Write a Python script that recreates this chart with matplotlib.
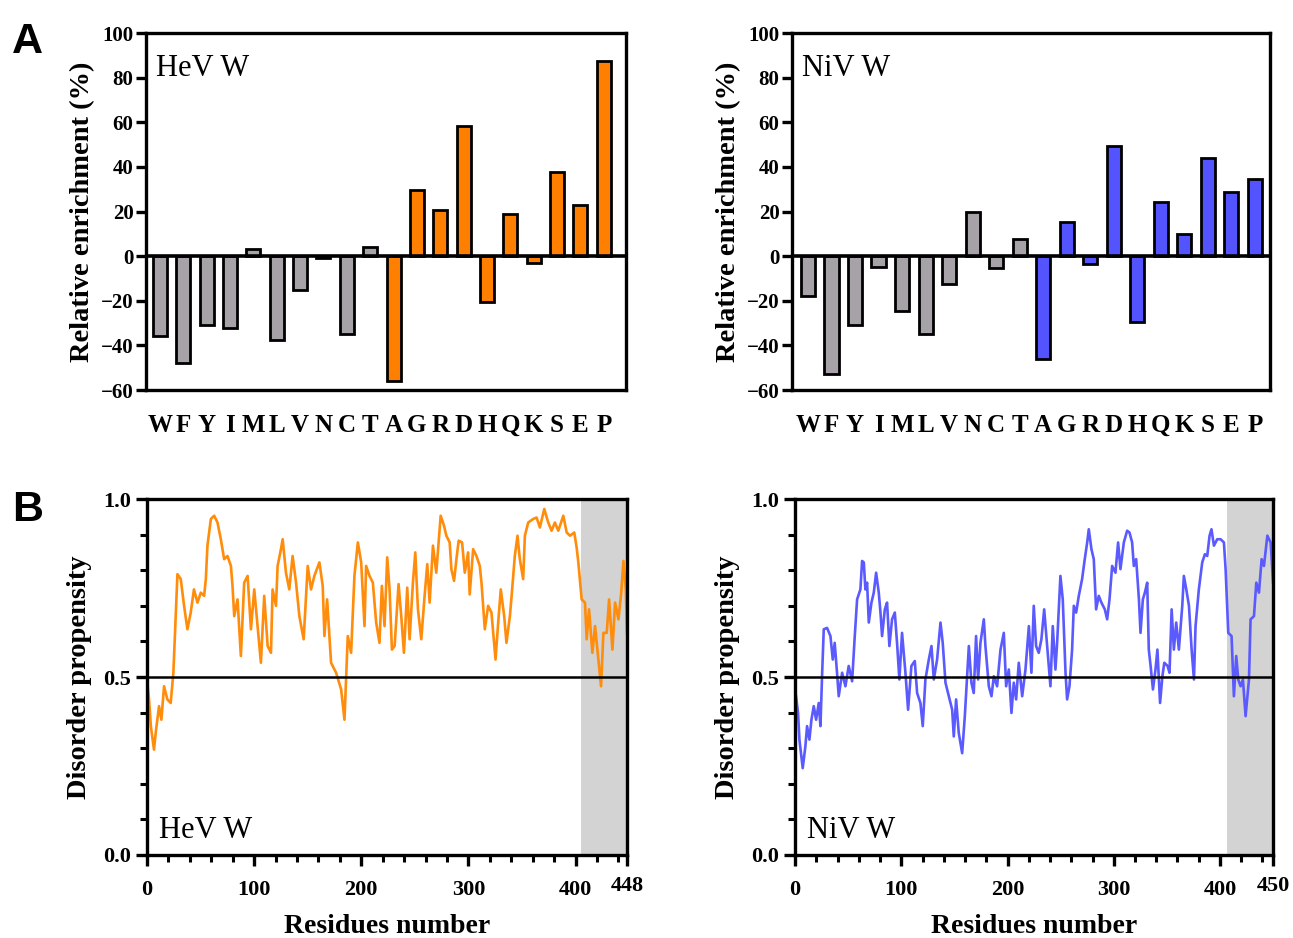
import numpy as np
import matplotlib.pyplot as plt

# amino acid enrichment (%)
residues = ['W', 'F', 'Y', 'I', 'M', 'L', 'V', 'N', 'C', 'T',
            'A', 'G', 'R', 'D', 'H', 'Q', 'K', 'S', 'E', 'P']
hev_enrich = [-36, -48, -31, -32, 3, -37.5, -15, -1, -35, 4,
              -56, 29.5, 20.5, 58.5, -20.5, 18.7, -3, 37.8, 22.9, 87.4]
niv_enrich = [-17.8, -53, -31, -5, -24.7, -35, -12.3, 19.9, -5.5, 7.8,
              -46, 15.4, -3.7, 49.5, -29.3, 24.2, 9.9, 44.2, 28.8, 34.7]
n_order_promoting = 10

# disorder propensity profiles (residue, score)
hev_pos = [0, 1.9, 3.6, 6.5, 8.1, 11.2, 13.4, 15.9, 19.0, 22.1, 24.6, 25.9, 28.4, 31.5, 34.6,
           37.7, 40.8, 43.8, 47.1, 50.2, 53.3, 54.9, 56.4, 59.6, 62.7, 65.8, 68.9, 72.0, 75.1,
           78.3, 79.8, 81.4, 84.5, 87.6, 90.7, 93.9, 97.0, 100.1, 103.2, 106.3, 109.4, 112.6,
           115.7, 117.2, 120.4, 121.9, 125.0, 126.6, 129.7, 132.8, 135.9, 139.1, 142.2, 146.2,
           150.0, 153.1, 156.2, 160.9, 164.0, 165.6, 168.1, 171.8, 176.5, 181.2, 184.3, 187.4,
           190.5, 193.6, 196.8, 199.9, 203.0, 204.5, 207.7, 210.8, 213.9, 217.0, 219.2, 221.7,
           224.2, 226.4, 228.6, 231.1, 234.8, 237.3, 239.8, 242.9, 245.1, 248.2, 250.4, 252.9,
           256.0, 259.1, 261.6, 263.8, 266.9, 270.0, 274.1, 277.2, 279.4, 282.5, 284.1, 286.6,
           288.8, 290.9, 294.1, 296.6, 299.7, 301.2, 304.4, 307.5, 310.6, 312.2, 315.3, 318.4,
           321.5, 325.3, 327.8, 330.2, 333.4, 335.5, 338.7, 340.2, 343.3, 345.8, 348.0, 351.1,
           352.7, 355.8, 360.5, 363.6, 366.7, 370.8, 374.5, 377.6, 380.7, 383.9, 388.6, 391.7,
           394.8, 398.8, 401.0, 402.6, 405.7, 408.8, 410.4, 412.6, 415.7, 418.2, 421.3, 423.8,
           426.0, 429.1, 431.3, 434.4, 436.9, 440.0, 442.5, 444.7, 446.9, 448]
hev_score = [0.493, 0.437, 0.361, 0.296, 0.343, 0.418, 0.380, 0.474, 0.437, 0.427, 0.512, 0.606,
             0.789, 0.775, 0.700, 0.634, 0.681, 0.746, 0.709, 0.737, 0.728, 0.775, 0.869, 0.944,
             0.953, 0.934, 0.887, 0.831, 0.840, 0.812, 0.756, 0.671, 0.718, 0.559, 0.765, 0.784,
             0.634, 0.746, 0.643, 0.540, 0.728, 0.587, 0.568, 0.746, 0.700, 0.812, 0.859, 0.887,
             0.793, 0.746, 0.840, 0.765, 0.671, 0.606, 0.812, 0.746, 0.784, 0.822, 0.756, 0.615,
             0.718, 0.540, 0.512, 0.465, 0.380, 0.615, 0.568, 0.784, 0.878, 0.822, 0.643, 0.812,
             0.784, 0.765, 0.653, 0.596, 0.756, 0.643, 0.836, 0.746, 0.577, 0.587, 0.761, 0.671,
             0.568, 0.751, 0.606, 0.765, 0.850, 0.690, 0.606, 0.728, 0.817, 0.709, 0.869, 0.793,
             0.953, 0.925, 0.897, 0.878, 0.803, 0.770, 0.831, 0.883, 0.878, 0.793, 0.850, 0.732,
             0.859, 0.840, 0.812, 0.765, 0.634, 0.700, 0.681, 0.549, 0.653, 0.746, 0.671, 0.596,
             0.671, 0.723, 0.840, 0.897, 0.831, 0.775, 0.897, 0.934, 0.944, 0.948, 0.920, 0.972,
             0.934, 0.911, 0.934, 0.911, 0.953, 0.906, 0.897, 0.906, 0.864, 0.822, 0.718, 0.709,
             0.606, 0.690, 0.568, 0.643, 0.549, 0.474, 0.624, 0.624, 0.718, 0.577, 0.709, 0.662,
             0.732, 0.826, 0.746, 0.624]

niv_pos = [0.9, 2.8, 4.1, 7.2, 9.7, 11.3, 13.5, 15.4, 17.6, 19.8, 22.3, 23.9, 25.4, 27.0, 30.1,
           33.3, 35.5, 37.3, 39.5, 41.1, 44.3, 47.4, 50.5, 53.7, 56.2, 58.4, 61.5, 63.1, 64.7,
           66.2, 67.8, 69.4, 71.9, 74.1, 76.3, 78.8, 80.4, 81.9, 84.5, 86.6, 88.8, 91.3, 93.9,
           96.0, 98.2, 100.7, 103.9, 106.4, 109.5, 112.7, 114.9, 118.0, 120.2, 122.7, 125.9,
           128.4, 130.6, 133.7, 136.9, 139.0, 141.6, 144.7, 147.9, 149.4, 151.6, 154.1, 157.3,
           159.8, 162.0, 163.6, 166.0, 168.2, 170.4, 172.3, 174.5, 177.7, 179.2, 182.4, 184.9,
           187.1, 190.2, 193.4, 196.5, 198.7, 201.2, 203.7, 205.9, 208.1, 210.6, 213.8, 216.9,
           220.1, 222.5, 224.7, 226.9, 229.4, 231.9, 234.5, 237.3, 240.4, 242.6, 245.1, 246.7,
           249.8, 252.0, 254.6, 256.1, 258.3, 260.8, 262.4, 264.6, 267.1, 270.2, 272.7, 275.0,
           276.5, 279.0, 281.2, 283.4, 285.9, 288.4, 291.6, 293.8, 296.0, 298.5, 301.6, 304.1,
           306.3, 309.5, 312.6, 314.8, 317.3, 318.9, 321.1, 323.7, 325.2, 327.4, 329.3, 331.5,
           333.0, 334.7, 336.9, 339.3, 341.1, 343.6, 345.8, 347.6, 350.7, 352.5, 354.5, 356.6,
           358.8, 361.3, 364.5, 366.0, 368.3, 370.8, 373.3, 375.5, 377.0, 380.1, 383.3, 385.8,
           388.0, 390.2, 392.0, 394.3, 397.4, 400.6, 403.7, 405.3, 407.8, 410.9, 413.1, 415.3,
           417.2, 419.4, 421.6, 424.1, 427.3, 428.8, 432.0, 434.2, 436.7, 439.2, 441.4, 444.6,
           447.7, 450]
niv_score = [0.446, 0.399, 0.324, 0.244, 0.305, 0.362, 0.324, 0.380, 0.418, 0.380, 0.427, 0.362,
             0.502, 0.634, 0.638, 0.615, 0.549, 0.596, 0.512, 0.446, 0.512, 0.474, 0.531, 0.488,
             0.615, 0.718, 0.746, 0.826, 0.822, 0.746, 0.765, 0.653, 0.709, 0.737, 0.793, 0.737,
             0.681, 0.615, 0.690, 0.709, 0.587, 0.662, 0.681, 0.596, 0.493, 0.624, 0.512, 0.408,
             0.531, 0.545, 0.455, 0.427, 0.362, 0.493, 0.549, 0.587, 0.493, 0.549, 0.653, 0.596,
             0.484, 0.446, 0.408, 0.333, 0.437, 0.343, 0.286, 0.390, 0.502, 0.587, 0.484, 0.455,
             0.615, 0.493, 0.596, 0.662, 0.587, 0.474, 0.446, 0.502, 0.474, 0.577, 0.624, 0.474,
             0.521, 0.399, 0.484, 0.437, 0.540, 0.446, 0.521, 0.643, 0.512, 0.700, 0.587, 0.568,
             0.606, 0.690, 0.587, 0.474, 0.643, 0.521, 0.596, 0.784, 0.718, 0.512, 0.437, 0.474,
             0.577, 0.700, 0.681, 0.728, 0.775, 0.831, 0.878, 0.915, 0.859, 0.831, 0.690, 0.728,
             0.709, 0.690, 0.662, 0.718, 0.812, 0.793, 0.878, 0.803, 0.878, 0.911, 0.906, 0.878,
             0.812, 0.831, 0.718, 0.624, 0.718, 0.737, 0.765, 0.577, 0.531, 0.465, 0.521, 0.577,
             0.427, 0.502, 0.540, 0.531, 0.512, 0.690, 0.577, 0.653, 0.577, 0.700, 0.784, 0.746,
             0.700, 0.577, 0.493, 0.643, 0.746, 0.822, 0.845, 0.840, 0.897, 0.915, 0.869, 0.887,
             0.887, 0.878, 0.803, 0.624, 0.615, 0.446, 0.559, 0.493, 0.474, 0.493, 0.390, 0.493,
             0.662, 0.671, 0.765, 0.737, 0.831, 0.812, 0.897, 0.878, 0.765]

hev_len, niv_len = 448, 450
hev_shade, niv_shade = 405, 407

serif = ['Liberation Serif', 'DejaVu Serif']
plt.rcParams['font.family'] = serif
plt.rcParams['axes.linewidth'] = 2.4

grey = '#a6a2a8'
orange_bar = '#ff8000'
blue_bar = '#5454ff'
orange_line = '#ff8c0a'
blue_line = '#5a5aff'

fig = plt.figure(figsize=(12.93, 9.38), dpi=100)


def bar_panel(rect, values, color, label, xlim):
    ax = fig.add_axes(rect)
    x = np.arange(len(residues))
    colors = [grey] * n_order_promoting + [color] * (len(residues) - n_order_promoting)
    ax.bar(x, values, width=0.6, color=colors, edgecolor='black', linewidth=2, zorder=2)
    ax.axhline(0, color='black', lw=2.6, zorder=3)
    ax.set_xlim(*xlim)
    ax.set_ylim(-60, 100)
    ax.set_yticks(np.arange(-60, 101, 20))
    ax.set_xticks(x)
    ax.set_xticklabels(residues, fontsize=18, fontweight='bold')
    ax.tick_params(axis='x', length=0, pad=17)
    ax.tick_params(axis='y', length=7, width=2.4, labelsize=15, pad=2)
    for t in ax.get_yticklabels():
        t.set_fontweight('bold')
    ax.set_ylabel('Relative enrichment (%)', fontsize=20.5, fontweight='bold', labelpad=4)
    ax.text(0.02, 0.9, label, transform=ax.transAxes, fontsize=22, va='center', ha='left')
    return ax


def line_panel(rect, pos, score, color, label, length, shade):
    ax = fig.add_axes(rect)
    ax.axvspan(shade, length, color='#d3d3d3', lw=0, zorder=0)
    ax.plot(pos, score, color=color, lw=1.9, zorder=2)
    ax.axhline(0.5, color='black', lw=1.8, zorder=3)
    ax.set_xlim(0, length)
    ax.set_ylim(0, 1)
    ax.set_xticks([0, 100, 200, 300, 400, length])
    ax.set_xticks(np.arange(20, length, 20), minor=True)
    ax.set_yticks([0, 0.5, 1.0])
    ax.set_yticklabels(['0.0', '0.5', '1.0'])
    ax.set_yticks(np.arange(0.1, 1.0, 0.1), minor=True)
    ax.tick_params(which='major', length=8, width=2.4, labelsize=16)
    ax.tick_params(axis='x', which='major', pad=10)
    ax.tick_params(which='minor', length=5, width=2.2)
    for t in ax.get_xticklabels() + ax.get_yticklabels():
        t.set_fontweight('bold')
    ax.get_xticklabels()[-1].set_y(0.012)
    ax.set_xlabel('Residues number', fontsize=20, fontweight='bold', labelpad=10)
    ax.set_ylabel('Disorder propensity', fontsize=20.5, fontweight='bold', labelpad=8)
    ax.text(0.025, 0.07, label, transform=ax.transAxes, fontsize=22, va='center', ha='left')
    return ax


bar_panel([0.1129, 0.5842, 0.3712, 0.3806], hev_enrich, orange_bar, 'HeV W', (-0.6, 19.95))
bar_panel([0.6125, 0.5842, 0.3697, 0.3806], niv_enrich, blue_bar, 'NiV W', (-0.68, 19.64))
line_panel([0.1137, 0.0885, 0.3712, 0.3795], hev_pos, hev_score, orange_line, 'HeV W',
           hev_len, hev_shade)
line_panel([0.6149, 0.0885, 0.3697, 0.3795], niv_pos, niv_score, blue_line, 'NiV W',
           niv_len, niv_shade)

fig.text(0.009, 0.955, 'A', fontsize=31, fontweight='bold', family='Liberation Sans', va='center')
fig.text(0.009, 0.456, 'B', fontsize=31, fontweight='bold', family='Liberation Sans', va='center')

fig.savefig('out.png', dpi=100)
